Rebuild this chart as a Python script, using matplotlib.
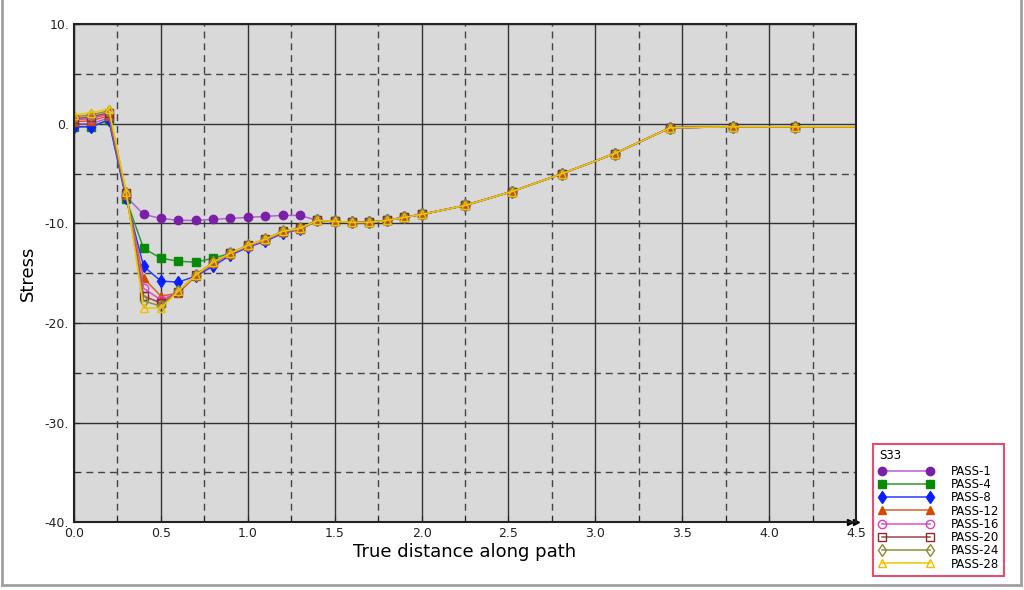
import matplotlib
matplotlib.use("Agg")
import matplotlib.pyplot as plt
from matplotlib.lines import Line2D
from matplotlib.ticker import MultipleLocator, FuncFormatter

# path distance (last point lies past the axis end so the line runs to the edge)
dist = [0.0, 0.1, 0.2, 0.3, 0.4, 0.5, 0.6, 0.7, 0.8, 0.9, 1.0, 1.1, 1.2, 1.3,
        1.4, 1.5, 1.6, 1.7, 1.8, 1.9, 2.0, 2.25, 2.52, 2.81, 3.11, 3.43, 3.79, 4.15, 4.6]

# all passes share the same values from 1.4 onwards
tail = [-9.7, -9.8, -9.9, -9.9, -9.7, -9.4, -9.1, -8.2, -6.8, -5.0, -3.0, -0.4, -0.3, -0.3, -0.3]

pass1 = [0.0, 0.0, 0.6, -7.3, -9.1, -9.5, -9.7, -9.7, -9.6, -9.5, -9.4, -9.3, -9.2, -9.2] + tail
pass4 = [-0.3, -0.3, 0.4, -7.6, -12.5, -13.5, -13.8, -13.9, -13.5, -13.0, -12.3, -11.7, -10.9, -10.6] + tail
pass8 = [-0.3, -0.3, 0.4, -7.5, -14.3, -15.8, -15.9, -15.3, -14.3, -13.2, -12.4, -11.8, -11.0, -10.6] + tail
pass12 = [0.2, 0.3, 0.8, -7.2, -15.5, -17.3, -17.0, -15.3, -14.0, -13.1, -12.3, -11.7, -10.9, -10.6] + tail
pass16 = [0.4, 0.5, 1.0, -7.1, -16.5, -17.7, -16.9, -15.2, -14.0, -13.0, -12.3, -11.7, -10.8, -10.5] + tail
pass20 = [0.5, 0.7, 1.1, -7.0, -17.3, -18.0, -16.9, -15.2, -13.9, -13.0, -12.2, -11.6, -10.8, -10.5] + tail
pass24 = [0.7, 0.9, 1.3, -6.9, -17.8, -18.3, -16.8, -15.2, -13.9, -13.0, -12.2, -11.6, -10.8, -10.5] + tail
pass28 = [0.9, 1.1, 1.5, -6.8, -18.5, -18.5, -16.8, -15.2, -13.9, -13.0, -12.2, -11.6, -10.8, -10.5] + tail

labels = ["PASS-1", "PASS-4", "PASS-8", "PASS-12", "PASS-16", "PASS-20", "PASS-24", "PASS-28"]
series = [pass1, pass4, pass8, pass12, pass16, pass20, pass24, pass28]

# (line colour, marker colour, marker, filled)
styles = [
    ("#b45ed6", "#7a1fa8", "o", True),
    ("#2e9a2e", "#078a07", "s", True),
    ("#2a3cff", "#0a1fff", "d", True),
    ("#d9622a", "#d04a00", "^", True),
    ("#e050c8", "#e040c0", "o", False),
    ("#a04848", "#8b2a2a", "s", False),
    ("#8f8f3a", "#8b8b30", "d", False),
    ("#f0c800", "#f0c000", "^", False),
]

fig = plt.figure(figsize=(10.24, 5.9), dpi=100)
ax = fig.add_axes([0.0723, 0.115, 0.7637, 0.844])
ax.set_facecolor("#d9d9d9")

for vals, lab, (lc, mc, mk, filled) in zip(series, labels, styles):
    ax.plot(dist, vals, color=lc, lw=1.1, marker=mk, ms=6,
            markerfacecolor=mc if filled else "none", markeredgecolor=mc,
            markeredgewidth=1.0, label=lab)

ax.set_xlim(0, 4.5)
ax.set_ylim(-40, 10)
ax.xaxis.set_major_locator(MultipleLocator(0.5))
ax.xaxis.set_minor_locator(MultipleLocator(0.25))
ax.yaxis.set_major_locator(MultipleLocator(10))
ax.yaxis.set_minor_locator(MultipleLocator(5))
ax.xaxis.set_major_formatter(FuncFormatter(lambda v, p: "%.1f" % v))
ax.yaxis.set_major_formatter(FuncFormatter(lambda v, p: "%d." % round(v)))
ax.grid(which="major", color="#333333", lw=1.0, ls="-")
ax.grid(which="minor", color="#444444", lw=1.0, ls=(0, (5, 3.5)))
ax.set_axisbelow(True)
ax.tick_params(which="both", direction="in", length=4, labelsize=9, colors="#222222")
for sp in ax.spines.values():
    sp.set_color("#222222")
    sp.set_linewidth(1.5)

ax.set_xlabel("True distance along path", fontsize=13, labelpad=2)
ax.set_ylabel("Stress", fontsize=13, labelpad=6)

# little double arrow at the end of the x axis
ax.plot([0.992, 1.0], [0.0, 0.0], transform=ax.transAxes, ls="none", marker=">",
        ms=5, color="black", clip_on=False)

handles = []
for lab, (lc, mc, mk, filled) in zip(labels, styles):
    handles.append(Line2D([0], [0], color=lc, lw=1.1, marker=mk, ms=6,
                          markerfacecolor=mc if filled else "none",
                          markeredgecolor=mc, label=lab))
leg = fig.legend(handles=handles, title="S33", loc="lower left",
                 bbox_to_anchor=(0.853, 0.024), fontsize=8.5, title_fontsize=8.5,
                 numpoints=2, handlelength=4.6, labelspacing=0.02, borderpad=0.45,
                 handletextpad=1.5, borderaxespad=0.0, fancybox=False,
                 alignment="left")
leg.get_frame().set_edgecolor("#e0204a")
leg.get_frame().set_linewidth(1.5)
leg._legend_box.sep = 2

# grey outer border of the window
for xs, ys in [([0.002, 0.002], [0.008, 1.0]), ([0.997, 0.997], [0.008, 1.0]),
               ([0.002, 0.997], [0.008, 0.008])]:
    fig.add_artist(Line2D(xs, ys, color="#a0a0a0", lw=2, transform=fig.transFigure))

plt.savefig("out.png", dpi=100)
